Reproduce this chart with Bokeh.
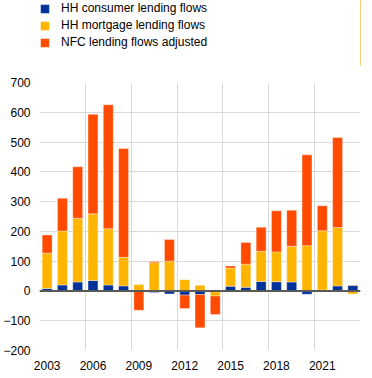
from bokeh.plotting import figure
from bokeh.models import Legend, LegendItem, FixedTicker, Span, ColumnDataSource
from bokeh.layouts import column
from bokeh.embed import file_html
from bokeh.resources import INLINE

years = list(range(2003, 2024))
consumer = [8, 20, 30, 35, 20, 17, 0, -5, -10, -14, -12, 0, 16, 12, 32, 31, 30, -11, 3, 17, 18]
mortgage = [119, 181, 214, 224, 189, 96, 22, 95, 100, 38, 19, -17, 61, 78, 101, 100, 120, 152, 199, 196, -10]
nfc = [61, 110, 173, 334, 416, 365, -65, 4, 73, -45, -112, -62, 7, 73, 81, 138, 121, 305, 84, 302, 2]

series_names = ["HH consumer lending flows", "HH mortgage lending flows", "NFC lending flows adjusted"]
series_vals = [consumer, mortgage, nfc]
colors = ["#003299", "#FFB400", "#FF4B00"]
x_ticks = [2003, 2006, 2009, 2012, 2015, 2018, 2021]
y_ticks = list(range(-200, 701, 100))

FONT = "Liberation Sans"

# stacked positions (positives up from 0, negatives down from 0)
pos_base = [0.0] * len(years)
neg_base = [0.0] * len(years)
sources = []
for vals in series_vals:
    bottoms, tops = [], []
    for i, v in enumerate(vals):
        if v >= 0:
            b, t = pos_base[i], pos_base[i] + v
            pos_base[i] = t
        else:
            b, t = neg_base[i] + v, neg_base[i]
            neg_base[i] = b
        bottoms.append(b)
        tops.append(t)
    sources.append(ColumnDataSource(dict(x=years, bottom=bottoms, top=tops)))

# main chart
p = figure(frame_width=321, frame_height=268, x_range=(2002.5, 2023.5), y_range=(-200, 700),
           output_backend="svg", toolbar_location=None,
           min_border_left=36, min_border_right=4, min_border_top=16, min_border_bottom=0)
p.outline_line_color = None
p.background_fill_color = "white"

for src, col in zip(sources, colors):
    p.vbar(x="x", bottom="bottom", top="top", width=0.65, source=src,
           fill_color=col, line_color="white", line_alpha=0.35, line_width=1)

zero = Span(location=0, dimension="width", line_color="#595959", line_width=2)
p.add_layout(zero)

p.xaxis.ticker = FixedTicker(ticks=x_ticks)
p.yaxis.ticker = FixedTicker(ticks=y_ticks)
p.xgrid.ticker = FixedTicker(ticks=[2002.5 + 3 * k for k in range(8)])
p.ygrid.ticker = FixedTicker(ticks=y_ticks)
for g in (p.xgrid, p.ygrid):
    g.grid_line_color = "#d9d9d9"
    g.grid_line_width = 1

for ax in (p.xaxis, p.yaxis):
    ax.axis_line_color = None
    ax.major_tick_line_color = None
    ax.minor_tick_line_color = None
    ax.major_tick_out = 0
    ax.major_tick_in = 0
    ax.minor_tick_out = 0
    ax.minor_tick_in = 0
    ax.major_label_text_font = FONT
    ax.major_label_text_font_size = "12px"
    ax.major_label_text_color = "#000000"
p.xaxis.major_label_standoff = 10
p.yaxis.major_label_standoff = 9

# legend strip on top (series drawn out of view, used only as legend proxies)
lg = figure(width=364, height=66, x_range=(0, 1), y_range=(0, 1),
            output_backend="svg", toolbar_location=None,
            min_border_left=0, min_border_right=0, min_border_top=0, min_border_bottom=0)
lg.axis.visible = False
lg.grid.visible = False
lg.outline_line_color = None
items = []
for name, src, col in zip(series_names, sources, colors):
    r = lg.vbar(x="x", bottom="bottom", top="top", width=0.65, source=src,
                fill_color=col, line_color="white", line_alpha=0.35, line_width=1)
    items.append(LegendItem(label=name, renderers=[r]))
legend = Legend(items=items, location=(0, 17), orientation="vertical",
                glyph_width=11, glyph_height=11, label_standoff=11,
                label_text_font=FONT, label_text_font_size="12px", label_text_color="#000000",
                label_height=12, spacing=3, padding=0, margin=0,
                border_line_color=None, background_fill_alpha=0)
lg.add_layout(legend, "center")

open("out.html", "w").write(file_html(column(lg, p, spacing=0), INLINE))
